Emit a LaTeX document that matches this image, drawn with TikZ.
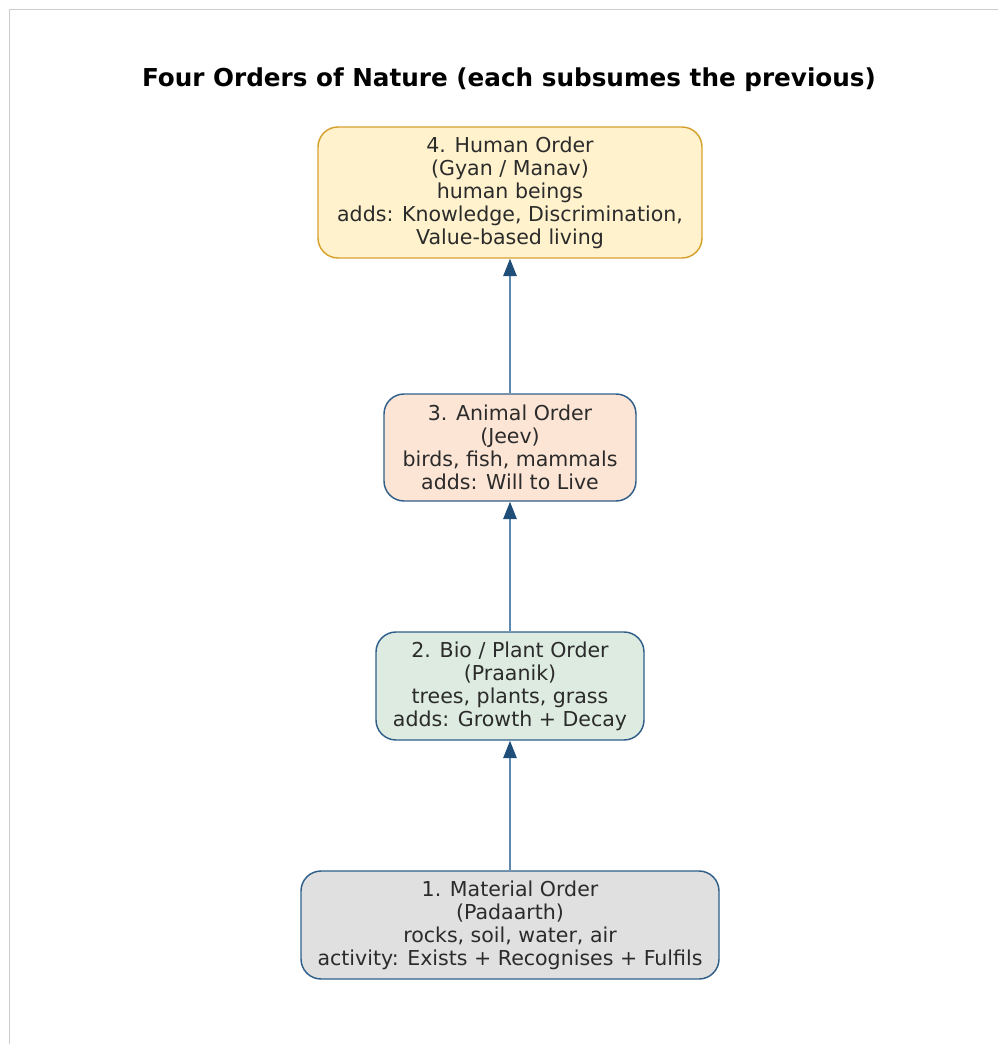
\documentclass[tikz,border=0pt]{standalone}
\usepackage{fontspec}
\setmainfont{DejaVu Sans}
\usetikzlibrary{arrows.meta}
\definecolor{framegray}{HTML}{CCCCCC}
\definecolor{edgeblue}{HTML}{2F5F8A}
\definecolor{arrowblue}{HTML}{1F4E79}
\definecolor{shaftblue}{HTML}{5F88AE}
\definecolor{humanfill}{HTML}{FFF2CC}
\definecolor{humanedge}{HTML}{D6A22E}
\definecolor{animalfill}{HTML}{FCE5D5}
\definecolor{plantfill}{HTML}{DDEBE0}
\definecolor{materialfill}{HTML}{E0E0E0}
\definecolor{textgray}{HTML}{2B2B2B}
\tikzset{
  orderbox/.style={draw=edgeblue, line width=1.1pt, rounded corners=15pt,
    align=center, inner sep=0pt, text=textgray,
    font=\fontsize{15.4}{17.25}\selectfont},
  uparrow/.style={draw=shaftblue, line width=1.3pt,
    -{Triangle[length=13pt,width=10pt,fill=arrowblue,color=arrowblue]}},
}
\begin{document}
\begin{tikzpicture}[x=0.75pt, y=-0.75pt]
\useasboundingbox (0,0) rectangle (998,1044);
% partial frame along the top and left edges
\draw[framegray, line width=0.7pt] (9.5,1044) -- (9.5,9.5) -- (998,9.5);

\node[font=\bfseries\fontsize{18.5}{22}\selectfont] (title) at (509,80)
  {Four Orders of Nature (each subsumes the previous)};

\node[orderbox, draw=humanedge, fill=humanfill,
  minimum width=384*0.75pt, minimum height=131*0.75pt] (human) at (510,192.5)
  {4. Human Order\\(Gyan / Manav)\\human beings\\adds: Knowledge, Discrimination,\\Value-based living};
\node[orderbox, fill=animalfill,
  minimum width=252*0.75pt, minimum height=107*0.75pt] (animal) at (510,447.5)
  {3. Animal Order\\(Jeev)\\birds, fish, mammals\\adds: Will to Live};
\node[orderbox, fill=plantfill,
  minimum width=268*0.75pt, minimum height=108*0.75pt] (plant) at (510,686)
  {2. Bio / Plant Order\\(Praanik)\\trees, plants, grass\\adds: Growth + Decay};
\node[orderbox, fill=materialfill,
  minimum width=418*0.75pt, minimum height=108*0.75pt] (material) at (510,925)
  {1. Material Order\\(Padaarth)\\rocks, soil, water, air\\activity: Exists + Recognises + Fulfils};

\draw[uparrow] (material.north) -- (plant.south);
\draw[uparrow] (plant.north) -- (animal.south);
\draw[uparrow] (animal.north) -- (human.south);
\end{tikzpicture}
\end{document}
